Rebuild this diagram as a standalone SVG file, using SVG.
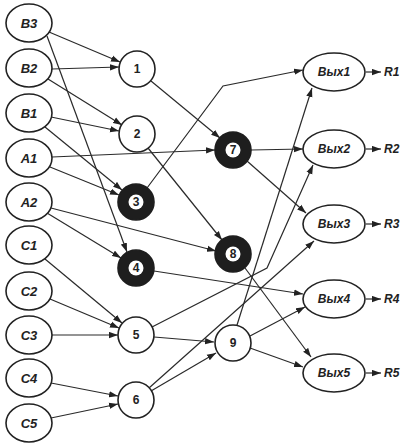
<svg xmlns="http://www.w3.org/2000/svg" width="409" height="446" viewBox="0 0 409 446">
<defs>
<marker id="ah" viewBox="0 0 10 7" refX="10" refY="3.5" markerWidth="9" markerHeight="7" markerUnits="userSpaceOnUse" orient="auto">
<path d="M0,0 L10,3.5 L0,7 z" fill="#222"/>
</marker>
<style>
.n{fill:#fff;stroke:#222;stroke-width:1.6}
.d{fill:#1e1e1e;stroke:#1e1e1e;stroke-width:1.6}
.w{fill:#fff;stroke:none}
.t{font-family:"Liberation Sans",Arial,sans-serif;font-weight:bold;font-style:italic;font-size:13px;fill:#222;text-anchor:middle;dominant-baseline:central}
.o{font-family:"Liberation Sans",Arial,sans-serif;font-weight:bold;font-style:italic;font-size:12px;fill:#222;text-anchor:middle;dominant-baseline:central}
.k{font-family:"Liberation Sans",Arial,sans-serif;font-weight:bold;font-size:12px;fill:#222;text-anchor:middle;dominant-baseline:central}
.r{font-family:"Liberation Sans",Arial,sans-serif;font-weight:bold;font-style:italic;font-size:12px;fill:#222;dominant-baseline:central}
.e{fill:none;stroke:#2a2a2a;stroke-width:1.2;marker-end:url(#ah)}
</style>
</defs>
<rect width="409" height="446" fill="#fff"/>
<g id="connectors">
<line class="e" x1="49" y1="32" x2="120" y2="62"/>
<line class="e" x1="47" y1="36" x2="127" y2="252"/>
<line class="e" x1="52" y1="69" x2="119" y2="67"/>
<line class="e" x1="48" y1="79" x2="122" y2="125"/>
<line class="e" x1="51" y1="117" x2="119" y2="131"/>
<line class="e" x1="45" y1="127" x2="122" y2="190"/>
<line class="e" x1="52" y1="157" x2="215" y2="150"/>
<line class="e" x1="50" y1="167" x2="119" y2="195"/>
<line class="e" x1="51" y1="208" x2="216" y2="251"/>
<line class="e" x1="47" y1="213" x2="121" y2="258"/>
<line class="e" x1="45" y1="259" x2="122" y2="323"/>
<line class="e" x1="50" y1="299" x2="119" y2="328"/>
<line class="e" x1="52" y1="335" x2="118" y2="335"/>
<line class="e" x1="51" y1="383" x2="118" y2="396"/>
<line class="e" x1="51" y1="418" x2="118" y2="404"/>
<line class="e" x1="151" y1="81" x2="220" y2="138"/>
<line class="e" x1="148" y1="148" x2="222" y2="240"/>
<polyline class="e" points="147,188 223,86 303,70"/>
<line class="e" x1="251" y1="150" x2="303" y2="149"/>
<line class="e" x1="247" y1="161" x2="306" y2="213"/>
<line class="e" x1="154" y1="271" x2="303" y2="294"/>
<line class="e" x1="245" y1="268" x2="311" y2="357"/>
<line class="e" x1="154" y1="337" x2="214" y2="342"/>
<line class="e" x1="151" y1="391" x2="216" y2="353"/>
<line class="e" x1="149" y1="388" x2="314" y2="241"/>
<polyline class="e" points="152,327 267,268 313,165"/>
<line class="e" x1="237" y1="325" x2="312" y2="88"/>
<line class="e" x1="250" y1="336" x2="305" y2="307"/>
<line class="e" x1="250" y1="348" x2="303" y2="367"/>
<line class="e" x1="366" y1="72" x2="381" y2="72"/>
<line class="e" x1="366" y1="149" x2="381" y2="149"/>
<line class="e" x1="366" y1="224" x2="381" y2="224"/>
<line class="e" x1="366" y1="299" x2="381" y2="299"/>
<line class="e" x1="366" y1="373" x2="381" y2="373"/>
</g>
<g id="B3"><ellipse class="n" cx="29" cy="23" rx="23" ry="19"/><text class="t" x="29" y="23">B3</text></g>
<g id="B2"><ellipse class="n" cx="29" cy="68" rx="23" ry="19"/><text class="t" x="29" y="68">B2</text></g>
<g id="B1"><ellipse class="n" cx="29" cy="113" rx="23" ry="19"/><text class="t" x="29" y="113">B1</text></g>
<g id="A1"><ellipse class="n" cx="29" cy="158" rx="23" ry="19"/><text class="t" x="29" y="158">A1</text></g>
<g id="A2"><ellipse class="n" cx="29" cy="202" rx="23" ry="19"/><text class="t" x="29" y="202">A2</text></g>
<g id="C1"><ellipse class="n" cx="29" cy="245" rx="23" ry="19"/><text class="t" x="29" y="245">C1</text></g>
<g id="C2"><ellipse class="n" cx="29" cy="291" rx="23" ry="19"/><text class="t" x="29" y="291">C2</text></g>
<g id="C3"><ellipse class="n" cx="29" cy="335" rx="23" ry="19"/><text class="t" x="29" y="335">C3</text></g>
<g id="C4"><ellipse class="n" cx="29" cy="378" rx="23" ry="19"/><text class="t" x="29" y="378">C4</text></g>
<g id="C5"><ellipse class="n" cx="29" cy="423" rx="23" ry="19"/><text class="t" x="29" y="423">C5</text></g>
<g id="n1"><circle class="n" cx="137" cy="69" r="18"/><text class="k" x="137" y="69">1</text></g>
<g id="n2"><circle class="n" cx="137" cy="134" r="18"/><text class="k" x="137" y="134">2</text></g>
<g id="n3"><circle class="d" cx="136" cy="202" r="18"/><circle class="w" cx="136" cy="202" r="7.5"/><text class="k" x="136" y="202">3</text></g>
<g id="n4"><circle class="d" cx="136" cy="268" r="18"/><circle class="w" cx="136" cy="268" r="7.5"/><text class="k" x="136" y="268">4</text></g>
<g id="n5"><circle class="n" cx="136" cy="335" r="18"/><text class="k" x="136" y="335">5</text></g>
<g id="n6"><circle class="n" cx="136" cy="400" r="18"/><text class="k" x="136" y="400">6</text></g>
<g id="n7"><circle class="d" cx="233" cy="150" r="18"/><circle class="w" cx="233" cy="150" r="7.5"/><text class="k" x="233" y="150">7</text></g>
<g id="n8"><circle class="d" cx="233" cy="254" r="18"/><circle class="w" cx="233" cy="254" r="7.5"/><text class="k" x="233" y="254">8</text></g>
<g id="n9"><circle class="n" cx="233" cy="343" r="18"/><text class="k" x="233" y="343">9</text></g>
<g id="out1"><ellipse class="n" cx="334" cy="72" rx="31" ry="19"/><text class="o" x="334" y="72">Вых1</text></g>
<g id="out2"><ellipse class="n" cx="334" cy="149" rx="31" ry="19"/><text class="o" x="334" y="149">Вых2</text></g>
<g id="out3"><ellipse class="n" cx="334" cy="224" rx="31" ry="19"/><text class="o" x="334" y="224">Вых3</text></g>
<g id="out4"><ellipse class="n" cx="334" cy="299" rx="31" ry="19"/><text class="o" x="334" y="299">Вых4</text></g>
<g id="out5"><ellipse class="n" cx="334" cy="373" rx="31" ry="19"/><text class="o" x="334" y="373">Вых5</text></g>
<g id="R1"><text class="r" x="384" y="72">R1</text></g>
<g id="R2"><text class="r" x="384" y="149">R2</text></g>
<g id="R3"><text class="r" x="384" y="224">R3</text></g>
<g id="R4"><text class="r" x="384" y="299">R4</text></g>
<g id="R5"><text class="r" x="384" y="373">R5</text></g>
</svg>
